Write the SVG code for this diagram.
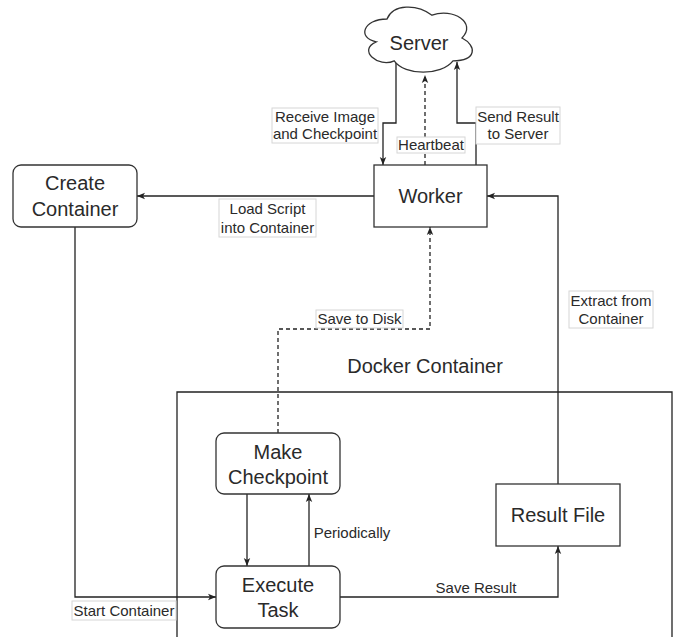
<svg xmlns="http://www.w3.org/2000/svg" width="678" height="637" viewBox="0 0 678 637">
<style>
.box{fill:#fff;stroke:#333;stroke-width:1.3}
.t{font-family:"Liberation Sans",Arial,sans-serif;fill:#2a2a2a;text-anchor:middle}
.big{font-size:20px}
.sm{font-size:15px}
.e{fill:none;stroke:#222;stroke-width:1.3}
.d{stroke-dasharray:4 3}
.lb{fill:#fff;stroke:#d6d6d6;stroke-width:1}
</style>
<defs>
<marker id="arr" viewBox="0 0 10 10" refX="10" refY="5" markerWidth="8" markerHeight="8" markerUnits="userSpaceOnUse" orient="auto">
<path d="M0,1 L10,5 L0,9 L2.5,5 Z" fill="#222"/>
</marker>
</defs>
<rect width="678" height="637" fill="#fff"/>
<g id="docker">
<path d="M177,645 V392 H672 V645" fill="none" stroke="#222" stroke-width="1.3"/>
<text class="t big" x="425" y="373">Docker Container</text>
</g>
<g id="edges">
<path class="e" d="M374,196 H137" marker-end="url(#arr)"/>
<path class="e" d="M75,227 V597 H216" marker-end="url(#arr)"/>
<path class="e" d="M247,494 V566" marker-end="url(#arr)"/>
<path class="e" d="M309,566 V494" marker-end="url(#arr)"/>
<path class="e" d="M340,597 H558 V546" marker-end="url(#arr)"/>
<path class="e" d="M558,484 V196 H487" marker-end="url(#arr)"/>
<path class="e d" d="M278,433 V329 H430 V227" marker-end="url(#arr)"/>
<path class="e" d="M396,63 V123 H383 V165" marker-end="url(#arr)"/>
<path class="e d" d="M425,165 V75" marker-end="url(#arr)"/>
<path class="e" d="M476,165 V123 H457 V62" marker-end="url(#arr)"/>
<rect class="lb" x="219" y="199" width="97" height="38"/>
<text class="t sm" x="267.5" y="214">Load Script</text>
<text class="t sm" x="267.5" y="233">into Container</text>
<rect class="lb" x="72" y="601" width="104" height="19"/>
<text class="t sm" x="124" y="616">Start Container</text>
<text class="t sm" x="352" y="538">Periodically</text>
<text class="t sm" x="476" y="593">Save Result</text>
<rect class="lb" x="569" y="291" width="84" height="37"/>
<text class="t sm" x="611" y="306">Extract from</text>
<text class="t sm" x="611" y="324">Container</text>
<rect class="lb" x="316" y="310" width="87" height="18"/>
<text class="t sm" x="359.5" y="324">Save to Disk</text>
<rect class="lb" x="272" y="108" width="106" height="35"/>
<text class="t sm" x="325" y="122">Receive Image</text>
<text class="t sm" x="325" y="139">and Checkpoint</text>
<rect class="lb" x="397" y="137" width="68" height="16"/>
<text class="t sm" x="431" y="150">Heartbeat</text>
<rect class="lb" x="476" y="107" width="84" height="37"/>
<text class="t sm" x="518" y="122">Send Result</text>
<text class="t sm" x="518" y="139">to Server</text>
</g>
<g id="server">
<path class="box" d="M387,19 C363,19 357,38 376.2,41.8 C357,50.2 378.6,68.4 394.2,60.8 C405,76 441,76 453,60.8 C477,60.8 477,45.6 462,38 C477,22.8 453,7.6 432,15.2 C417,3.8 393,3.8 387,19 Z"/>
<text class="t big" x="419" y="50">Server</text>
</g>
<g id="worker">
<rect class="box" x="374" y="165" width="113" height="62"/>
<text class="t big" x="430.5" y="203">Worker</text>
</g>
<g id="create">
<rect class="box" x="13" y="165" width="124" height="62" rx="8"/>
<text class="t big" x="75" y="190">Create</text>
<text class="t big" x="75" y="216">Container</text>
</g>
<g id="checkpoint">
<rect class="box" x="216" y="433" width="124" height="61" rx="8"/>
<text class="t big" x="278" y="459">Make</text>
<text class="t big" x="278" y="484">Checkpoint</text>
</g>
<g id="execute">
<rect class="box" x="216" y="566" width="124" height="62" rx="8"/>
<text class="t big" x="278" y="592">Execute</text>
<text class="t big" x="278" y="617">Task</text>
</g>
<g id="result">
<rect class="box" x="496" y="484" width="124" height="62"/>
<text class="t big" x="558" y="522">Result File</text>
</g>
</svg>
